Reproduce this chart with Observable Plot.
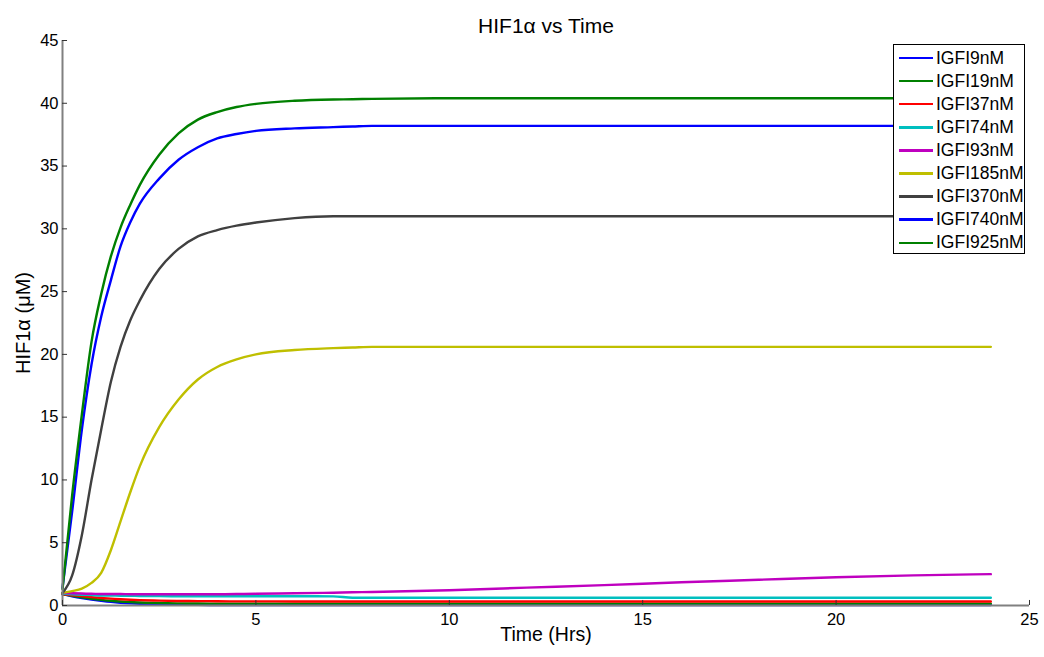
<!DOCTYPE html>
<html>
<head>
<meta charset="utf-8">
<script src="https://cdn.jsdelivr.net/npm/d3@7"></script>
<script src="https://cdn.jsdelivr.net/npm/@observablehq/plot@0.6"></script>
<style>
  body { margin: 0; background: #fff; }
  #wrap { position: relative; width: 1044px; height: 657px; font-family: "Liberation Sans", Arial, sans-serif; }
  #legend { position: absolute; left: 893px; top: 44px; width: 130px; height: 208px; border: 1px solid #000; background: #fff; box-sizing: content-box; }
  .row { position: absolute; left: 0; height: 22px; display: flex; align-items: center; font-size: 17.5px; color: #000; white-space: nowrap; }
  .sw { width: 34px; height: 2.5px; margin-left: 5px; margin-right: 3px; flex: none; }
</style>
</head>
<body>
<div id="wrap"></div>
<script>
// Time grid (hours)
const time = [0,0.25,0.5,0.75,1,1.25,1.5,1.75,2,2.5,3,3.5,4,4.5,5,6,7,7.5,8,10,12,14,16,18,20,22,24];

// HIF1α (µM) per IGF-I dose
const igfi9   = [0.9,0.74,0.6,0.48,0.38,0.29,0.22,0.17,0.13,0.09,0.06,0.05,0.04,0.04,0.04,0.04,0.04,0.04,0.04,0.04,0.04,0.04,0.04,0.04,0.04,0.04,0.04];
const igfi19  = [0.9,0.77,0.65,0.54,0.45,0.38,0.32,0.28,0.24,0.2,0.17,0.16,0.15,0.15,0.15,0.15,0.15,0.15,0.15,0.15,0.15,0.15,0.15,0.15,0.15,0.15,0.15];
const igfi37  = [0.9,0.82,0.75,0.67,0.6,0.55,0.5,0.46,0.43,0.39,0.36,0.35,0.34,0.33,0.33,0.32,0.32,0.32,0.32,0.32,0.32,0.32,0.32,0.32,0.32,0.32,0.32];
const igfi74  = [0.95,0.9,0.86,0.83,0.8,0.79,0.78,0.77,0.76,0.75,0.74,0.74,0.74,0.74,0.74,0.74,0.73,0.62,0.62,0.62,0.62,0.62,0.62,0.62,0.62,0.62,0.62];
const igfi93  = [1.0,0.97,0.95,0.93,0.92,0.91,0.91,0.9,0.9,0.9,0.9,0.9,0.9,0.91,0.93,0.97,1.02,1.05,1.08,1.22,1.42,1.62,1.85,2.05,2.25,2.4,2.5];
const igfi185 = [1.0,1.15,1.35,1.8,2.6,4.4,6.7,9.0,11.1,14.2,16.4,18.0,19.0,19.6,20.0,20.35,20.5,20.55,20.6,20.6,20.6,20.6,20.6,20.6,20.6,20.6,20.6];
const igfi370 = [1.0,2.4,5.6,10.0,14.0,17.8,20.6,22.7,24.3,26.8,28.4,29.4,29.9,30.25,30.5,30.85,31.0,31.0,31.0,31.0,31.0,31.0,31.0,31.0,31.0,31.0,31.0];
const igfi740 = [1.4,7.5,14.0,19.2,23.0,25.9,28.6,30.5,32.0,34.0,35.5,36.5,37.2,37.55,37.8,38.0,38.1,38.15,38.2,38.2,38.2,38.2,38.2,38.2,38.2,38.2,38.2];
const igfi925 = [1.3,8.8,15.2,21.0,24.8,27.8,30.1,31.9,33.5,35.9,37.6,38.7,39.3,39.7,39.95,40.2,40.3,40.32,40.35,40.4,40.4,40.4,40.4,40.4,40.4,40.4,40.4];

const seriesNames  = ["IGFI9nM","IGFI19nM","IGFI37nM","IGFI74nM","IGFI93nM","IGFI185nM","IGFI370nM","IGFI740nM","IGFI925nM"];
const seriesValues = [igfi9, igfi19, igfi37, igfi74, igfi93, igfi185, igfi370, igfi740, igfi925];
const seriesColors = ["#0000FF","#008000","#FF0000","#00BFBF","#BF00BF","#BFBF00","#404040","#0000FF","#008000"];

const xTicks = [0,5,10,15,20,25];
const yTicks = [0,5,10,15,20,25,30,35,40,45];

const lineMarks = seriesNames.map((name, i) =>
  Plot.line(time.map((t, j) => ({t, v: seriesValues[i][j]})), {
    x: "t", y: "v", stroke: seriesColors[i], strokeWidth: 2.4, curve: "monotone-x"
  })
);

const chart = Plot.plot({
  width: 1044,
  height: 657,
  marginLeft: 62,
  marginRight: 15,
  marginTop: 40,
  marginBottom: 52,
  style: {fontFamily: '"Liberation Sans", Arial, sans-serif', background: "#fff", color: "#000"},
  x: {domain: [0, 25]},
  y: {domain: [0, 45]},
  marks: [
    Plot.axisX(xTicks, {tickSize: 0, tickPadding: 8, fontSize: 16.5, label: null}),
    Plot.axisY(yTicks, {tickSize: 0, tickPadding: 4, fontSize: 16.5, label: null}),
    ...lineMarks,
    Plot.ruleY([0], {stroke: "#808080", strokeWidth: 2}),
    Plot.ruleX([0], {stroke: "#808080", strokeWidth: 2}),
    Plot.ruleX(xTicks, {x: d => d, y1: 0, y2: 0.4, stroke: "#333"}),
    Plot.ruleY(yTicks, {y: d => d, x1: 0, x2: 0.13, stroke: "#333"}),
    Plot.text(["HIF1α vs Time"], {frameAnchor: "top", textAnchor: "middle", dy: -22, fontSize: 21, letterSpacing: "0.8px"}),
    Plot.text(["Time (Hrs)"], {frameAnchor: "bottom", textAnchor: "middle", dy: 35, fontSize: 19.5}),
    Plot.text(["HIF1α (μM)"], {frameAnchor: "left", textAnchor: "middle", dx: -39, rotate: -90, fontSize: 20})
  ]
});

const wrap = document.getElementById("wrap");
wrap.appendChild(chart);

const legend = document.createElement("div");
legend.id = "legend";
seriesNames.forEach((name, i) => {
  const row = document.createElement("div");
  row.className = "row";
  row.style.top = (2 + i * 23.1) + "px";
  const sw = document.createElement("span");
  sw.className = "sw";
  sw.style.background = seriesColors[i];
  const lab = document.createElement("span");
  lab.textContent = name;
  row.appendChild(sw);
  row.appendChild(lab);
  legend.appendChild(row);
});
wrap.appendChild(legend);
</script>
</body>
</html>
